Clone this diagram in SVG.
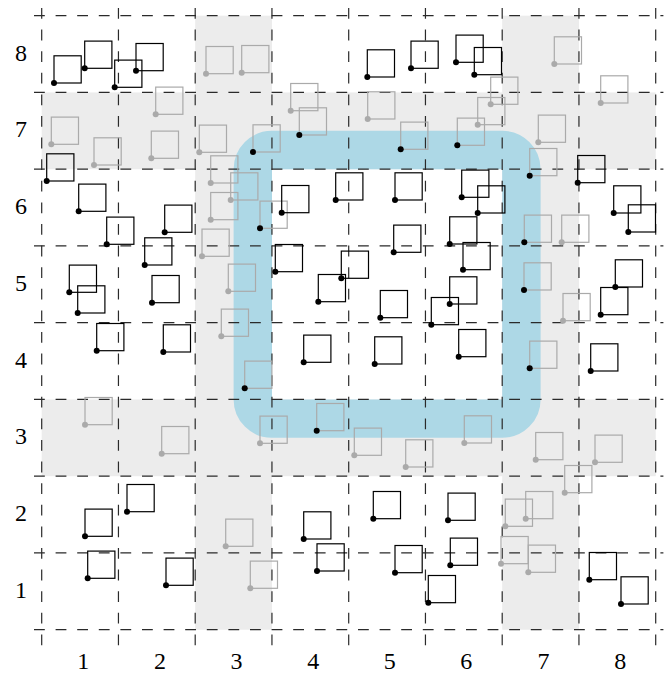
<svg xmlns="http://www.w3.org/2000/svg" width="672" height="673" viewBox="0 0 672 673">
<style>
.band{fill:#ececec}
.ring{fill:none;stroke:#add8e6;stroke-width:38.4}
.grid line{stroke:#2a2a2a;stroke-width:1.2;stroke-dasharray:10.8 10.8}
.lab{font-family:"Liberation Serif","DejaVu Serif",serif;font-size:24px;fill:#000;text-anchor:middle}
.p{stroke-width:1.2}
.k{stroke:#000;fill:#000}
.g{stroke:#aaa;fill:#aaa}
.m{stroke:#aaa;fill:#000}
</style>
<defs>
<g id="sq"><rect x="0" y="-27.2" width="27.2" height="27.2" fill="none"/><circle cx="0" cy="0" r="3" stroke="none"/></g>
</defs>
<g id="bands">
<rect class="band" x="41.7" y="92.45" width="614" height="76.75"/>
<rect class="band" x="41.7" y="399.45" width="614" height="76.75"/>
<rect class="band" x="195.2" y="15.7" width="76.75" height="614"/>
<rect class="band" x="502.2" y="15.7" width="76.75" height="614"/>
</g>
<g id="ring"><rect class="ring" x="252.8" y="150" width="268.6" height="268.6" rx="19.2" ry="19.2"/></g>
<g class="grid" id="grid">
<line x1="41.7" y1="8" x2="41.7" y2="652"/>
<line x1="118.45" y1="8" x2="118.45" y2="652"/>
<line x1="195.2" y1="8" x2="195.2" y2="652"/>
<line x1="271.95" y1="8" x2="271.95" y2="652"/>
<line x1="348.7" y1="8" x2="348.7" y2="652"/>
<line x1="425.45" y1="8" x2="425.45" y2="652"/>
<line x1="502.2" y1="8" x2="502.2" y2="652"/>
<line x1="578.95" y1="8" x2="578.95" y2="652"/>
<line x1="655.7" y1="8" x2="655.7" y2="652"/>
<line x1="34" y1="15.7" x2="663.4" y2="15.7"/>
<line x1="34" y1="92.45" x2="663.4" y2="92.45"/>
<line x1="34" y1="169.2" x2="663.4" y2="169.2"/>
<line x1="34" y1="245.95" x2="663.4" y2="245.95"/>
<line x1="34" y1="322.7" x2="663.4" y2="322.7"/>
<line x1="34" y1="399.45" x2="663.4" y2="399.45"/>
<line x1="34" y1="476.2" x2="663.4" y2="476.2"/>
<line x1="34" y1="552.95" x2="663.4" y2="552.95"/>
<line x1="34" y1="629.7" x2="663.4" y2="629.7"/>
</g>
<g id="labels" class="lab">
<text x="21" y="60.7">8</text>
<text x="21" y="137.4">7</text>
<text x="21" y="214.2">6</text>
<text x="21" y="290.9">5</text>
<text x="21" y="367.7">4</text>
<text x="21" y="444.4">3</text>
<text x="21" y="521.2">2</text>
<text x="21" y="597.9">1</text>
<text x="83.3" y="669">1</text>
<text x="160" y="669">2</text>
<text x="236.5" y="669">3</text>
<text x="313.3" y="669">4</text>
<text x="389.8" y="669">5</text>
<text x="466.3" y="669">6</text>
<text x="543.5" y="669">7</text>
<text x="620.3" y="669">8</text>
</g>
<g id="gray-points">
<g id="g01" class="p g"><use href="#sq" transform="translate(206,73.7)"/></g>
<g id="g02" class="p g"><use href="#sq" transform="translate(241.7,72.7)"/></g>
<g id="g03" class="p g"><use href="#sq" transform="translate(554.3,64)"/></g>
<g id="g04" class="p g"><use href="#sq" transform="translate(155.7,114.3)"/></g>
<g id="g05" class="p g"><use href="#sq" transform="translate(51.3,144.3)"/></g>
<g id="g06" class="p g"><use href="#sq" transform="translate(94,165)"/></g>
<g id="g07" class="p g"><use href="#sq" transform="translate(151.3,158.3)"/></g>
<g id="g08" class="p g"><use href="#sq" transform="translate(199.3,152.3)"/></g>
<g id="g09" class="p g"><use href="#sq" transform="translate(290.7,110.7)"/></g>
<g id="g10" class="p g"><use href="#sq" transform="translate(367.7,119)"/></g>
<g id="g11" class="p g"><use href="#sq" transform="translate(490.7,104.3)"/></g>
<g id="g12" class="p g"><use href="#sq" transform="translate(477.7,124.7)"/></g>
<g id="g13" class="p g"><use href="#sq" transform="translate(600.7,103)"/></g>
<g id="g14" class="p g"><use href="#sq" transform="translate(538.3,142.3)"/></g>
<g id="g15" class="p g"><use href="#sq" transform="translate(210.7,183)"/></g>
<g id="g16" class="p g"><use href="#sq" transform="translate(230.7,200)"/></g>
<g id="g17" class="p g"><use href="#sq" transform="translate(210.7,219.7)"/></g>
<g id="g18" class="p g"><use href="#sq" transform="translate(561.7,242.3)"/></g>
<g id="g19" class="p g"><use href="#sq" transform="translate(202,256.3)"/></g>
<g id="g20" class="p g"><use href="#sq" transform="translate(228.3,291.3)"/></g>
<g id="g21" class="p g"><use href="#sq" transform="translate(563,320.7)"/></g>
<g id="g22" class="p g"><use href="#sq" transform="translate(221.3,336.3)"/></g>
<g id="g23" class="p g"><use href="#sq" transform="translate(85,424.7)"/></g>
<g id="g24" class="p g"><use href="#sq" transform="translate(161.7,453.7)"/></g>
<g id="g25" class="p g"><use href="#sq" transform="translate(260,443.3)"/></g>
<g id="g26" class="p g"><use href="#sq" transform="translate(354.3,455.3)"/></g>
<g id="g27" class="p g"><use href="#sq" transform="translate(405.7,467)"/></g>
<g id="g28" class="p g"><use href="#sq" transform="translate(464.3,443)"/></g>
<g id="g29" class="p g"><use href="#sq" transform="translate(535.7,459.7)"/></g>
<g id="g30" class="p g"><use href="#sq" transform="translate(595,462.3)"/></g>
<g id="g31" class="p g"><use href="#sq" transform="translate(225.7,546.3)"/></g>
<g id="g32" class="p g"><use href="#sq" transform="translate(564.7,492.7)"/></g>
<g id="g33" class="p g"><use href="#sq" transform="translate(525.7,518.7)"/></g>
<g id="g34" class="p g"><use href="#sq" transform="translate(505.3,526.3)"/></g>
<g id="g35" class="p g"><use href="#sq" transform="translate(250.3,588.3)"/></g>
<g id="g36" class="p g"><use href="#sq" transform="translate(501,563.7)"/></g>
<g id="g37" class="p g"><use href="#sq" transform="translate(528.3,572.3)"/></g>
</g>
<g id="mixed-points">
<g id="m01" class="p m"><use href="#sq" transform="translate(299.3,135)"/></g>
<g id="m02" class="p m"><use href="#sq" transform="translate(253,152)"/></g>
<g id="m03" class="p m"><use href="#sq" transform="translate(400.7,149.3)"/></g>
<g id="m04" class="p m"><use href="#sq" transform="translate(457.3,145.3)"/></g>
<g id="m05" class="p m"><use href="#sq" transform="translate(260,228.3)"/></g>
<g id="m06" class="p m"><use href="#sq" transform="translate(529.7,175.7)"/></g>
<g id="m07" class="p m"><use href="#sq" transform="translate(524.3,242.3)"/></g>
<g id="m08" class="p m"><use href="#sq" transform="translate(524,290)"/></g>
<g id="m09" class="p m"><use href="#sq" transform="translate(244.7,388.3)"/></g>
<g id="m10" class="p m"><use href="#sq" transform="translate(529.7,368.3)"/></g>
<g id="m11" class="p m"><use href="#sq" transform="translate(316.7,430.7)"/></g>
</g>
<g id="black-points">
<g id="k01" class="p k"><use href="#sq" transform="translate(54,83)"/></g>
<g id="k02" class="p k"><use href="#sq" transform="translate(84.7,68.3)"/></g>
<g id="k03" class="p k"><use href="#sq" transform="translate(114.7,87.3)"/></g>
<g id="k04" class="p k"><use href="#sq" transform="translate(136,70.7)"/></g>
<g id="k05" class="p k"><use href="#sq" transform="translate(367.3,77)"/></g>
<g id="k06" class="p k"><use href="#sq" transform="translate(411,68.3)"/></g>
<g id="k07" class="p k"><use href="#sq" transform="translate(456,62.3)"/></g>
<g id="k08" class="p k"><use href="#sq" transform="translate(474.3,74.7)"/></g>
<g id="k09" class="p k"><use href="#sq" transform="translate(46.7,181)"/></g>
<g id="k10" class="p k"><use href="#sq" transform="translate(78.7,211.3)"/></g>
<g id="k11" class="p k"><use href="#sq" transform="translate(106.7,244.3)"/></g>
<g id="k12" class="p k"><use href="#sq" transform="translate(164.7,232.3)"/></g>
<g id="k13" class="p k"><use href="#sq" transform="translate(281.7,212.7)"/></g>
<g id="k14" class="p k"><use href="#sq" transform="translate(335.7,200)"/></g>
<g id="k15" class="p k"><use href="#sq" transform="translate(395,200)"/></g>
<g id="k16" class="p k"><use href="#sq" transform="translate(461.7,197.3)"/></g>
<g id="k17" class="p k"><use href="#sq" transform="translate(477.7,213)"/></g>
<g id="k18" class="p k"><use href="#sq" transform="translate(449.7,244)"/></g>
<g id="k19" class="p k"><use href="#sq" transform="translate(577.7,182.7)"/></g>
<g id="k20" class="p k"><use href="#sq" transform="translate(613.7,213)"/></g>
<g id="k21" class="p k"><use href="#sq" transform="translate(628.3,232)"/></g>
<g id="k22" class="p k"><use href="#sq" transform="translate(144.7,265)"/></g>
<g id="k23" class="p k"><use href="#sq" transform="translate(69.3,292.3)"/></g>
<g id="k24" class="p k"><use href="#sq" transform="translate(77.7,313)"/></g>
<g id="k25" class="p k"><use href="#sq" transform="translate(152,302.7)"/></g>
<g id="k26" class="p k"><use href="#sq" transform="translate(275.3,271.7)"/></g>
<g id="k27" class="p k"><use href="#sq" transform="translate(341.3,278.3)"/></g>
<g id="k28" class="p k"><use href="#sq" transform="translate(318.3,301.7)"/></g>
<g id="k29" class="p k"><use href="#sq" transform="translate(393.7,252.3)"/></g>
<g id="k30" class="p k"><use href="#sq" transform="translate(380.3,317.7)"/></g>
<g id="k31" class="p k"><use href="#sq" transform="translate(463,269.7)"/></g>
<g id="k32" class="p k"><use href="#sq" transform="translate(449.7,304)"/></g>
<g id="k33" class="p k"><use href="#sq" transform="translate(615.3,287)"/></g>
<g id="k34" class="p k"><use href="#sq" transform="translate(600.7,314.7)"/></g>
<g id="k35" class="p k"><use href="#sq" transform="translate(96.7,350.7)"/></g>
<g id="k36" class="p k"><use href="#sq" transform="translate(163.3,352)"/></g>
<g id="k37" class="p k"><use href="#sq" transform="translate(303.7,362.3)"/></g>
<g id="k38" class="p k"><use href="#sq" transform="translate(374.7,364)"/></g>
<g id="k39" class="p k"><use href="#sq" transform="translate(431.3,324.7)"/></g>
<g id="k40" class="p k"><use href="#sq" transform="translate(458.7,356.7)"/></g>
<g id="k41" class="p k"><use href="#sq" transform="translate(590.7,371)"/></g>
<g id="k42" class="p k"><use href="#sq" transform="translate(85,536.3)"/></g>
<g id="k43" class="p k"><use href="#sq" transform="translate(127,511.7)"/></g>
<g id="k44" class="p k"><use href="#sq" transform="translate(303.7,539)"/></g>
<g id="k45" class="p k"><use href="#sq" transform="translate(373.3,518.7)"/></g>
<g id="k46" class="p k"><use href="#sq" transform="translate(448,520.3)"/></g>
<g id="k47" class="p k"><use href="#sq" transform="translate(87.7,578.3)"/></g>
<g id="k48" class="p k"><use href="#sq" transform="translate(166,585.3)"/></g>
<g id="k49" class="p k"><use href="#sq" transform="translate(317,571)"/></g>
<g id="k50" class="p k"><use href="#sq" transform="translate(395,572.7)"/></g>
<g id="k51" class="p k"><use href="#sq" transform="translate(428.3,602.7)"/></g>
<g id="k52" class="p k"><use href="#sq" transform="translate(450.3,565.3)"/></g>
<g id="k53" class="p k"><use href="#sq" transform="translate(589.3,579.7)"/></g>
<g id="k54" class="p k"><use href="#sq" transform="translate(621,604)"/></g>
</g>
</svg>
